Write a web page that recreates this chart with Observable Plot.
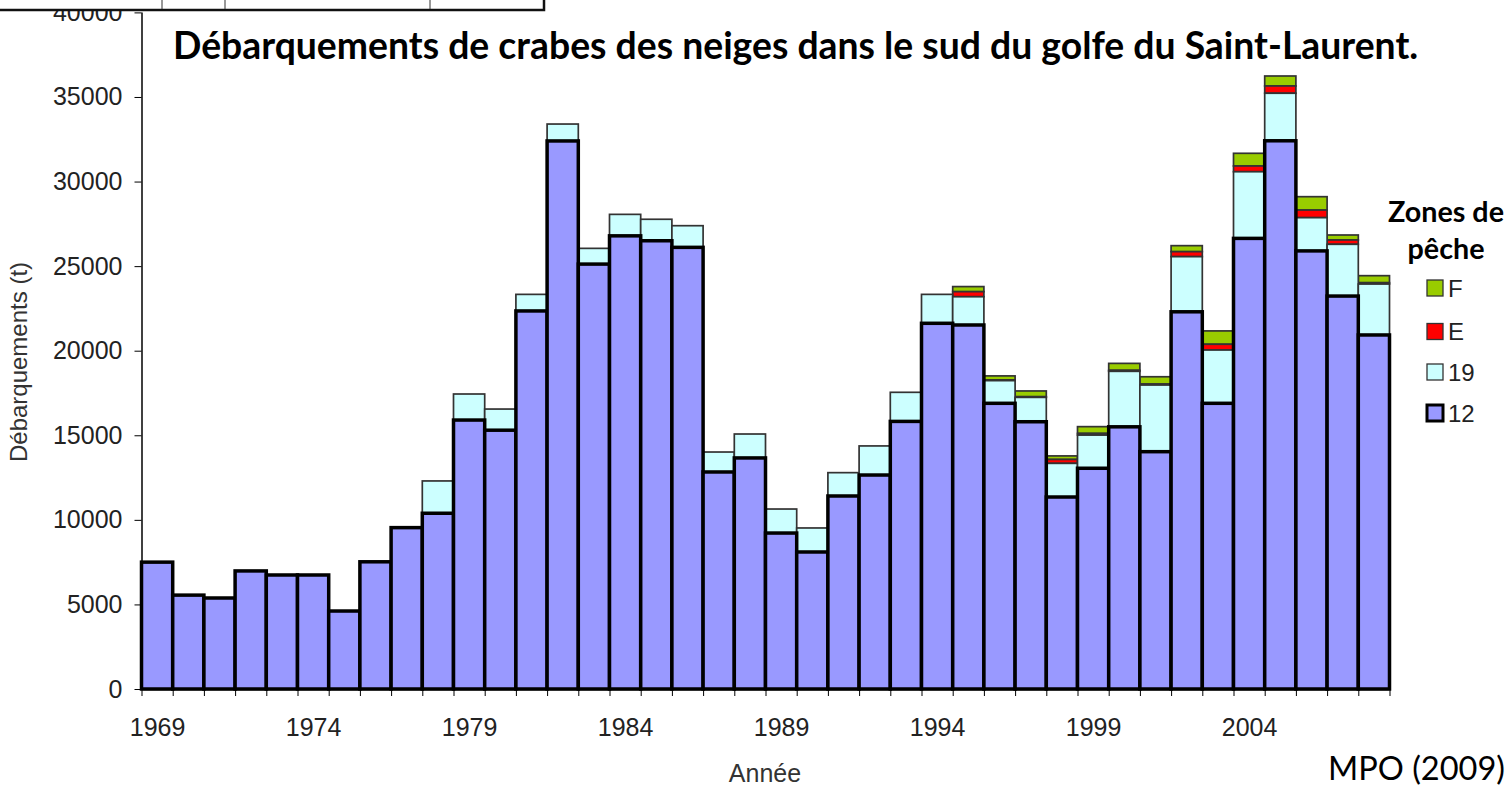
<!DOCTYPE html>
<html><head><meta charset="utf-8">
<script src="https://cdn.jsdelivr.net/npm/d3@7"></script>
<script src="https://cdn.jsdelivr.net/npm/@observablehq/plot@0.6"></script>
<style>
html,body{margin:0;padding:0;background:#fff;}
#wrap{position:relative;width:1509px;height:792px;overflow:hidden;background:#fff;}
#wrap > svg{position:absolute;left:0;top:0;}
</style></head><body><div id="wrap"></div>
<script>
// ---- data ----
const years = [1969,1970,1971,1972,1973,1974,1975,1976,1977,1978,1979,1980,1981,1982,1983,1984,1985,1986,1987,1988,
               1989,1990,1991,1992,1993,1994,1995,1996,1997,1998,1999,2000,2001,2002,2003,2004,2005,2006,2007,2008];
const zone12 = [7500,5550,5380,6980,6740,6740,4610,7520,9540,10390,15900,15300,22350,32400,25120,26790,26500,26110,12830,13660,
                9220,8100,11410,12650,15820,21620,21520,16890,15800,11350,13050,15500,14030,22300,16890,26640,32410,25900,23230,20930];
const zone19 = [0,0,0,0,0,0,0,0,0,1910,1540,1250,980,1000,930,1270,1270,1280,1180,1415,
                1420,1420,1380,1720,1720,1710,1670,1340,1440,1990,1960,3280,3940,3260,3150,3940,2810,1965,3060,3010];
const zoneE  = [0,0,0,0,0,0,0,0,0,0,0,0,0,0,0,0,0,0,0,0,
                0,0,0,0,0,0,300,40,40,230,100,60,60,295,340,340,430,450,255,80];
const zoneF  = [0,0,0,0,0,0,0,0,0,0,0,0,0,0,0,0,0,0,0,0,
                0,0,0,0,0,0,300,240,340,210,400,410,430,355,790,750,590,790,295,415];
const zones = ["12","19","E","F"];
const zoneColors = {"12":"#9999ff","19":"#ccffff","E":"#ff0000","F":"#99cc00"};
const legendOrder = ["F","E","19","12"];
const xLabelYears = [1969,1974,1979,1984,1989,1994,1999,2004];
const yTicks = [0,5000,10000,15000,20000,25000,30000,35000,40000];
const titleText = "Débarquements de crabes des neiges dans le sud du golfe du Saint-Laurent.";
const legendTitle = ["Zones de","pêche"];
const yLabel = "Débarquements (t)";
const xLabel = "Année";
const sourceText = "MPO (2009)";

// ---- table ----
const series = {"12": zone12, "19": zone19, "E": zoneE, "F": zoneF};
const drawOrder = ["F","E","19","12"]; // zone 12 drawn last (thick outline on top)
const rows = [];
for (const z of drawOrder) years.forEach((yr, i) => {
  const v = series[z][i];
  if (v > 0) rows.push({year: yr, zone: z, value: v});
});
const boundaries = years.concat([years[years.length - 1] + 1]);

const chart = Plot.plot({
  width: 1509, height: 792,
  marginLeft: 141.5, marginRight: 119.5, marginTop: 12.4, marginBottom: 103,
  x: {type: "linear", domain: [years[0], years[years.length - 1] + 1], axis: null},
  y: {domain: [0, 40000], axis: null},
  color: {type: "identity"},
  style: {fontFamily: "'Liberation Sans', Arial, sans-serif", fontSize: "25px", color: "#222", background: "transparent", overflow: "visible"},
  marks: [
    Plot.rectY(rows, {
      x1: d => d.year, x2: d => d.year + 1, y: "value", z: "zone", order: zones,
      fill: d => zoneColors[d.zone],
      stroke: d => d.zone === "12" ? "#000" : "#333",
      strokeWidth: d => d.zone === "12" ? 3.5 : 1.7,
      inset: 0
    }),
    Plot.ruleY([0], {stroke: "#000", strokeWidth: 1.5}),
    Plot.ruleX([years[0]], {stroke: "#000", strokeWidth: 1.5}),
    Plot.axisX({ticks: boundaries, tickSize: 7, tickFormat: () => "", label: null, stroke: "#000"}),
    Plot.axisX({ticks: xLabelYears.map(y => y + 0.5), tickSize: 0, tickPadding: 29, tickFormat: d => String(Math.floor(d)), label: null}),
    Plot.axisY({ticks: yTicks, tickSize: 7, tickPadding: 12.5, tickFormat: d => String(d), label: null, stroke: "#000"})
  ]
});
document.getElementById("wrap").appendChild(chart);

// ---- annotations overlay ----
const ov = d3.select("#wrap").append("svg")
  .attr("width", 1509).attr("height", 792)
  .style("pointer-events", "none");

function fitWidth(sel, w) {
  const n = sel.node();
  let s = parseFloat(sel.attr("font-size"));
  for (let k = 0; k < 3; k++) { const L = n.getComputedTextLength(); s *= w / L; sel.attr("font-size", s); }
  return s;
}

// cropped box at the top-left
ov.append("rect").attr("x", -3).attr("y", -3).attr("width", 547).attr("height", 13)
  .attr("fill", "#fff").attr("stroke", "#111").attr("stroke-width", 2.5);
[162, 225, 430].forEach(x => ov.append("line").attr("x1", x).attr("x2", x).attr("y1", 0).attr("y2", 9).attr("stroke", "#333").attr("stroke-width", 1));

const calib = "Lato, 'Open Sans', sans-serif";
const t = ov.append("text").attr("x", 173).attr("y", 59).attr("font-family", calib).attr("font-weight", 700)
  .attr("font-size", 30).attr("fill", "#000").text(titleText);
fitWidth(t, 1245);

const lt0 = ov.append("text").attr("x", 1446).attr("y", 222).attr("text-anchor", "middle")
  .attr("font-family", calib).attr("font-weight", 700).attr("font-size", 25).attr("fill", "#000").text(legendTitle[0]);
const ls = fitWidth(lt0, 116);
ov.append("text").attr("x", 1446).attr("y", 259).attr("text-anchor", "middle")
  .attr("font-family", calib).attr("font-weight", 700).attr("font-size", ls).attr("fill", "#000").text(legendTitle[1]);

const legY = [288, 331.5, 372, 413];
legendOrder.forEach((z, i) => {
  ov.append("rect").attr("x", 1427).attr("y", legY[i] - 8).attr("width", 16).attr("height", 16)
    .attr("fill", zoneColors[z]).attr("stroke", z === "12" ? "#000" : "#333").attr("stroke-width", z === "12" ? 3 : 1.3);
  ov.append("text").attr("x", 1448).attr("y", legY[i] + 8.5)
    .attr("font-family", "'Liberation Sans', Arial, sans-serif").attr("font-size", 24).attr("fill", "#222").text(z);
});

ov.append("text").attr("transform", "translate(27,362) rotate(-90)").attr("text-anchor", "middle")
  .attr("font-family", "'Liberation Sans', Arial, sans-serif").attr("font-size", 24).attr("fill", "#333").text(yLabel);

ov.append("text").attr("x", 765).attr("y", 782).attr("text-anchor", "middle")
  .attr("font-family", "'Liberation Sans', Arial, sans-serif").attr("font-size", 25).attr("fill", "#333").text(xLabel);

const src = ov.append("text").attr("x", 1328).attr("y", 780).attr("font-family", calib)
  .attr("font-size", 28).attr("fill", "#000").text(sourceText);
fitWidth(src, 177);
</script></body></html>
